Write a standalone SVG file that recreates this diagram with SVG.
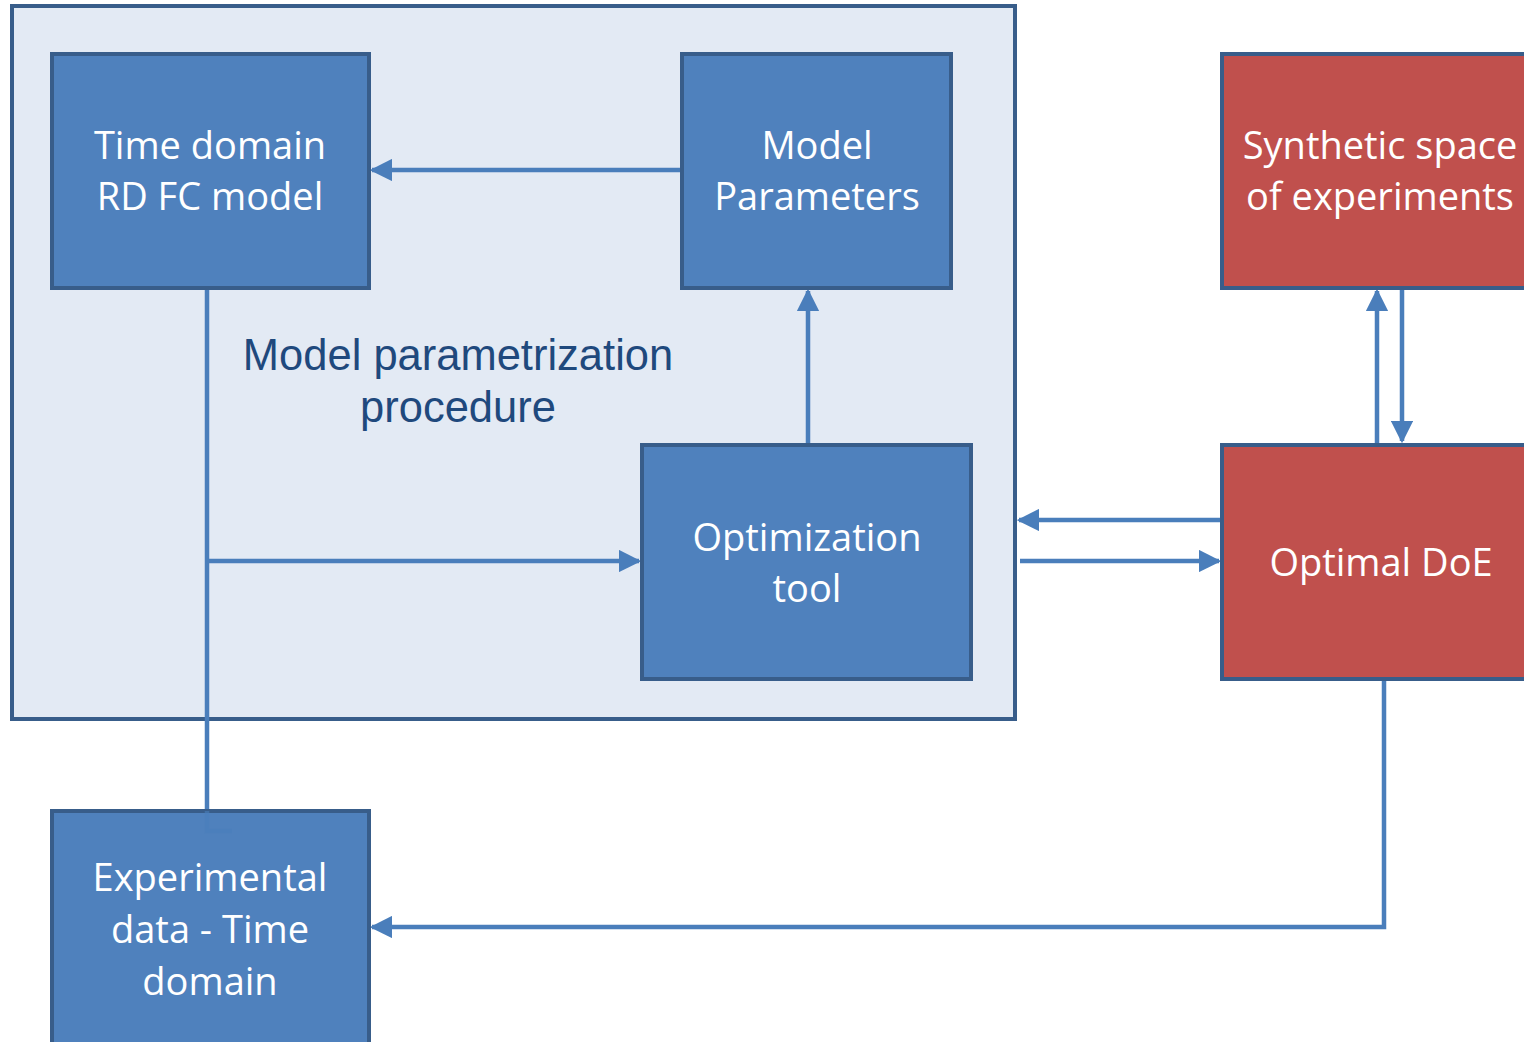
<svg xmlns="http://www.w3.org/2000/svg" width="1524" height="1042" viewBox="0 0 1524 1042">
<defs>
<style>
.box{fill:#4F81BD;stroke:#385D8A;stroke-width:4}
.red{fill:#C0504D;stroke:#385D8A;stroke-width:4}
.frame{fill:#E3EAF4;stroke:#385D8A;stroke-width:4}
.t{font-family:"Open Sans","Noto Sans",sans-serif;font-size:38px;fill:#FFFFFF;text-anchor:middle}
.lbl{font-family:"Liberation Sans",Arial,sans-serif;font-size:43.5px;fill:#1F497D;text-anchor:middle}
.c{fill:none;stroke:#4A7EBB;stroke-width:4.5}
</style>
<marker id="ah" markerWidth="5" markerHeight="5" refX="4.5" refY="2.5" orient="auto" markerUnits="strokeWidth">
<path d="M0,0 L5,2.5 L0,5 z" fill="#4A7EBB"/>
</marker>
</defs>
<rect width="1524" height="1042" fill="#FFFFFF"/>
<g id="frame">
<rect class="frame" x="12" y="6" width="1003" height="713"/>
<text class="lbl" x="458" y="370">Model parametrization</text>
<text class="lbl" x="458" y="422">procedure</text>
</g>
<g id="connectors">
<path class="c" d="M682,170 H372" marker-end="url(#ah)"/>
<path class="c" d="M808,444 V291" marker-end="url(#ah)"/>
<path class="c" d="M207,288 V831 H232"/>
<path class="c" d="M207,561 H639" marker-end="url(#ah)"/>
<path class="c" d="M1222,520 H1019" marker-end="url(#ah)"/>
<path class="c" d="M1020,561 H1219" marker-end="url(#ah)"/>
<path class="c" d="M1377,444 V291" marker-end="url(#ah)"/>
<path class="c" d="M1402,288 V441" marker-end="url(#ah)"/>
<path class="c" d="M1384,679 V927 H372" marker-end="url(#ah)"/>
</g>
<g id="time-domain">
<rect class="box" x="52" y="54" width="317" height="234"/>
<text class="t" x="210" y="159">Time domain</text>
<text class="t" x="210" y="210">RD FC model</text>
</g>
<g id="model-parameters">
<rect class="box" x="682" y="54" width="269" height="234"/>
<text class="t" x="817" y="159">Model</text>
<text class="t" x="817" y="210">Parameters</text>
</g>
<g id="optimization-tool">
<rect class="box" x="642" y="445" width="329" height="234"/>
<text class="t" x="807" y="551">Optimization</text>
<text class="t" x="807" y="602">tool</text>
</g>
<g id="synthetic-space">
<rect class="red" x="1222" y="54" width="310" height="234"/>
<text class="t" x="1380" y="159">Synthetic space</text>
<text class="t" x="1380" y="210">of experiments</text>
</g>
<g id="optimal-doe">
<rect class="red" x="1222" y="445" width="310" height="234"/>
<text class="t" x="1381" y="576">Optimal DoE</text>
</g>
<g id="experimental-data">
<rect class="box" x="52" y="811" width="317" height="240"/>
<text class="t" x="210" y="891">Experimental</text>
<text class="t" x="210" y="943">data - Time</text>
<text class="t" x="210" y="995">domain</text>
</g>
<path class="c" d="M207,811 V831 H232" opacity="0.6"/>
</svg>
